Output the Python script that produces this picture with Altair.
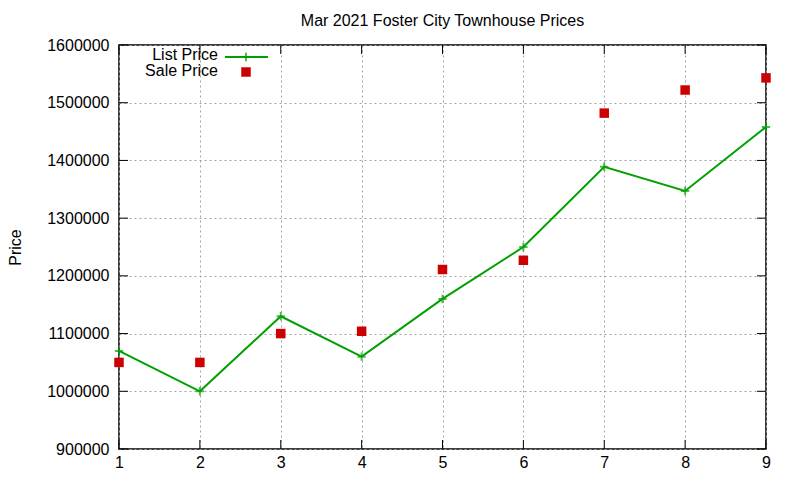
import altair as alt
import pandas as pd

x_vals = [1, 2, 3, 4, 5, 6, 7, 8, 9]
list_price = [1070000, 1000000, 1130000, 1060000, 1160000, 1250000, 1389000, 1347000, 1458000]
sale_price = [1050000, 1050000, 1100000, 1104000, 1211000, 1227000, 1482000, 1522000, 1543000]
y_ticks = [900000, 1000000, 1100000, 1200000, 1300000, 1400000, 1500000, 1600000]
x_ticks = [1, 2, 3, 4, 5, 6, 7, 8, 9]

W, H = 647, 404
FONT = "Liberation Sans"

df = pd.DataFrame({"x": x_vals, "list": list_price, "sale": sale_price})
yt = pd.DataFrame({"v": y_ticks})
xt = pd.DataFrame({"v": x_ticks})

xs = alt.Scale(domain=[1, 9], nice=False, zero=False)
ys = alt.Scale(domain=[900000, 1600000], nice=False, zero=False)

xaxis = alt.Axis(values=x_ticks, format="d", title=None, grid=True, gridColor="#a0a0a0",
                 gridDash=[2, 3], gridWidth=1, ticks=False, domain=False, labelFlush=False,
                 labelFont=FONT, labelFontSize=16, labelColor="black", labelPadding=5)
yaxis = alt.Axis(values=y_ticks, format="d", title="Price", grid=True, gridColor="#a0a0a0",
                 gridDash=[2, 3], gridWidth=1, ticks=False, domain=False, labelFlush=False,
                 labelFont=FONT, labelFontSize=16, labelColor="black", labelPadding=10,
                 titleFont=FONT, titleFontSize=16, titleFontWeight="normal", titleColor="black",
                 titlePadding=23)

base = alt.Chart(df)

line = base.mark_line(color="#00a000", strokeWidth=2).encode(
    x=alt.X("x:Q", scale=xs, axis=xaxis),
    y=alt.Y("list:Q", scale=ys, axis=yaxis),
)
plus_shape = "M-1,0L1,0M0,-1L0,1"
pts = base.mark_point(shape=plus_shape, size=70, color="#00a000", strokeWidth=2, filled=False).encode(
    x=alt.X("x:Q", scale=xs), y=alt.Y("list:Q", scale=ys)
)
sale = base.mark_square(size=90, color="#cc0000", opacity=1).encode(
    x=alt.X("x:Q", scale=xs), y=alt.Y("sale:Q", scale=ys)
)

# inward ticks (gnuplot style)
yl = alt.Chart(yt).mark_rule(color="black", strokeWidth=1).encode(
    y=alt.Y("v:Q", scale=ys), x=alt.value(0), x2=alt.value(9))
yr = alt.Chart(yt).mark_rule(color="black", strokeWidth=1).encode(
    y=alt.Y("v:Q", scale=ys), x=alt.value(W - 9), x2=alt.value(W))
xb = alt.Chart(xt).mark_rule(color="black", strokeWidth=1).encode(
    x=alt.X("v:Q", scale=xs), y=alt.value(H), y2=alt.value(H - 9))
xtp = alt.Chart(xt).mark_rule(color="black", strokeWidth=1).encode(
    x=alt.X("v:Q", scale=xs), y=alt.value(0), y2=alt.value(9))

# legend (gnuplot style: label left, sample right)
leg1 = alt.Chart(pd.DataFrame({"t": ["List Price"]})).mark_text(
    align="right", baseline="middle", font=FONT, fontSize=16, color="black"
).encode(text="t:N", x=alt.value(99), y=alt.value(10))
leg2 = alt.Chart(pd.DataFrame({"t": ["Sale Price"]})).mark_text(
    align="right", baseline="middle", font=FONT, fontSize=16, color="black"
).encode(text="t:N", x=alt.value(99), y=alt.value(26))
leg_line = alt.Chart(pd.DataFrame({"t": [0]})).mark_rule(color="#00a000", strokeWidth=2).encode(
    x=alt.value(106), x2=alt.value(149), y=alt.value(12))
leg_plus = alt.Chart(pd.DataFrame({"t": [0]})).mark_point(
    shape=plus_shape, size=70, color="#00a000", strokeWidth=2, filled=False).encode(
    x=alt.value(127), y=alt.value(12))
leg_sq = alt.Chart(pd.DataFrame({"t": [0]})).mark_square(size=90, color="#cc0000", opacity=1).encode(
    x=alt.value(127), y=alt.value(27))

chart = alt.layer(line, pts, sale, yl, yr, xb, xtp, leg1, leg2, leg_line, leg_plus, leg_sq).properties(
    width=W, height=H,
    title=alt.TitleParams("Mar 2021 Foster City Townhouse Prices", font=FONT, fontSize=16,
                          fontWeight="normal", color="black", offset=8),
    autosize=alt.AutoSizeParams(type="none"),
    padding={"left": 111, "top": 37, "right": 26, "bottom": 23},
    background="white",
).configure_view(stroke="black", strokeWidth=1.5)

chart.save("out.html", embed_options={"renderer": "svg", "actions": False})
